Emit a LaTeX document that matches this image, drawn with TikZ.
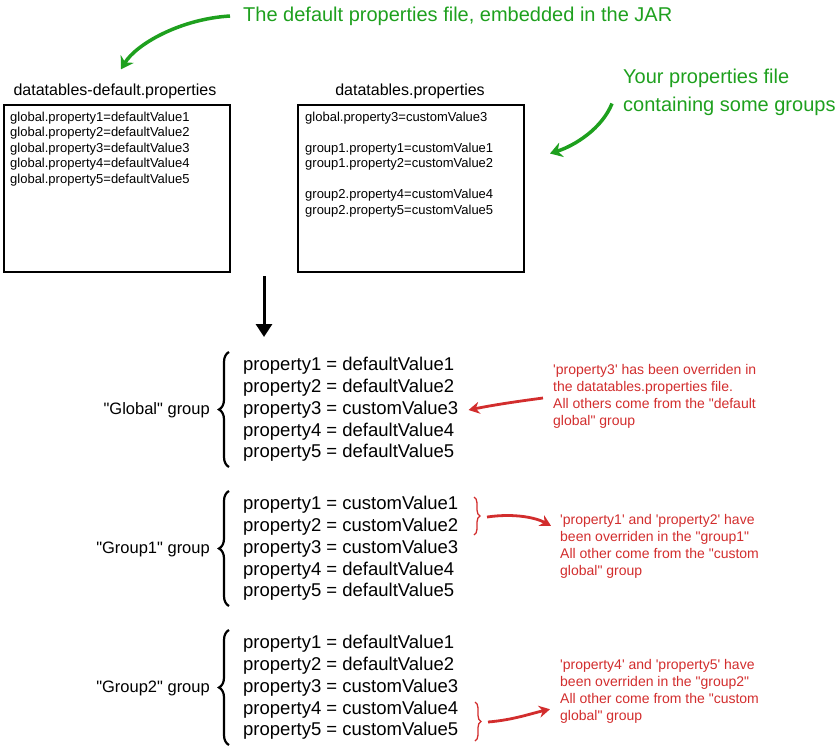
\documentclass[tikz,border=0pt]{standalone}
\usepackage{fontspec}
\setmainfont{Liberation Sans}
\usetikzlibrary{arrows.meta,decorations.pathreplacing,calc}
\definecolor{noteGreen}{RGB}{30,160,30}
\definecolor{noteRed}{RGB}{210,45,45}
\newcommand{\quoted}[1]{\textquotesingle#1\textquotesingle}
\newcommand{\dquoted}[1]{\textquotedbl#1\textquotedbl}
\begin{document}
\begin{tikzpicture}[x=1pt,y=-1pt,
	every node/.style={inner sep=0pt,anchor=west},
	filetxt/.style={anchor=north west,align=left,font=\fontsize{13}{15.5}\selectfont},
	ftitle/.style={anchor=center,font=\fontsize{16}{18}\selectfont},
	filebox/.style={draw,line width=2pt,anchor=north west,minimum width=226pt,minimum height=167pt},
	prop/.style={font=\fontsize{18.5}{22}\selectfont},
	glabel/.style={anchor=east,font=\fontsize{16.5}{20}\selectfont},
	greennote/.style={text=noteGreen,align=left,font=\fontsize{20}{28}\selectfont},
	rednote/.style={text=noteRed,align=left,font=\fontsize{14}{17}\selectfont},
	bigbrace/.style={decorate,decoration={brace,amplitude=10pt},line width=2.2pt},
	smallbrace/.style={decorate,decoration={brace,amplitude=6pt},noteRed,line width=1.3pt},
	greenarrow/.style={noteGreen,line width=3.5pt,-{Stealth[length=12pt,width=15pt]}},
	redarrow/.style={noteRed,line width=2.8pt,-{Stealth[length=11pt,width=12pt]}},
	blackarrow/.style={line width=3pt,-{Triangle[length=13pt,width=16pt]}}]
      \useasboundingbox (0,0) rectangle (840,753);

      % the two files
      \node [filebox] (dbox) at (3,104) {};
      \node [filebox] (cbox) at (297,104) {};
      \node [ftitle] (dtitle) at (115,91) {datatables-default.properties};
      \node [ftitle] (ctitle) at (410,91) {datatables.properties};
      \node [filetxt] (dtxt) at (10,111.5) {global.property1=defaultValue1\\global.property2=defaultValue2\\global.property3=defaultValue3\\global.property4=defaultValue4\\global.property5=defaultValue5};
      \node [filetxt] (ctxt) at (305,111.5) {global.property3=customValue3\\[15.5pt]group1.property1=customValue1\\group1.property2=customValue2\\[15.5pt]group2.property4=customValue4\\group2.property5=customValue5};

      \node [greennote] (jar) at (243,16) {The default properties file, embedded in the JAR};
      \node [greennote] (yours) at (623,92.5) {Your properties file\\containing some groups};
      \draw [greenarrow] ($(jar.west)+(-13,0)$) .. controls +(-50,3) and +(15,-25) .. ($(dtitle.north)+(6,-14)$);
      \draw [greenarrow] ($(yours.west)+(-11,11)$) .. controls +(-10,25) and +(25,-8) .. ($(cbox.east)+(25,-35)$);

      \draw [blackarrow] ($(dbox.south east)!0.5!(cbox.south west)+(0,3)$) -- +(0,61);

      % "Global" group
      \node [prop] (p11) at (243,366) {property1 = defaultValue1};
      \node [prop] (p12) at (243,388) {property2 = defaultValue2};
      \node [prop] (p13) at (243,410) {property3 = customValue3};
      \node [prop] (p14) at (243,432) {property4 = defaultValue4};
      \node [prop] (p15) at (243,453) {property5 = defaultValue5};
      \node [glabel] (lglobal) at (210,410) {\dquoted{Global} group};
      \draw [bigbrace] ($(p15.west)+(-14,14)$) -- ($(p11.west)+(-14,-14)$);

      % "Group1" group
      \node [prop] (p21) at (243,505) {property1 = customValue1};
      \node [prop] (p22) at (243,527) {property2 = customValue2};
      \node [prop] (p23) at (243,549) {property3 = customValue3};
      \node [prop] (p24) at (243,571) {property4 = defaultValue4};
      \node [prop] (p25) at (243,592) {property5 = defaultValue5};
      \node [glabel] (lgroup1) at (210,549) {\dquoted{Group1} group};
      \draw [bigbrace] ($(p25.west)+(-14,14)$) -- ($(p21.west)+(-14,-14)$);

      % "Group2" group
      \node [prop] (p31) at (243,644) {property1 = defaultValue1};
      \node [prop] (p32) at (243,666) {property2 = defaultValue2};
      \node [prop] (p33) at (243,688) {property3 = customValue3};
      \node [prop] (p34) at (243,710) {property4 = customValue4};
      \node [prop] (p35) at (243,731) {property5 = customValue5};
      \node [glabel] (lgroup2) at (210,688) {\dquoted{Group2} group};
      \draw [bigbrace] ($(p35.west)+(-14,14)$) -- ($(p31.west)+(-14,-14)$);

      % red notes
      \node [rednote] (ann1) at (553,396) {\quoted{property3} has been overriden in\\the datatables.properties file.\\All others come from the \textquotedbl default\\global\textquotedbl{} group};
      \node [rednote] (ann2) at (560,546) {\quoted{property1} and \quoted{property2} have\\been overriden in the \dquoted{group1}\\All other come from the \textquotedbl custom\\global\textquotedbl{} group};
      \node [rednote] (ann3) at (560,691) {\quoted{property4} and \quoted{property5} have\\been overriden in the \dquoted{group2}\\All other come from the \textquotedbl custom\\global\textquotedbl{} group};

      \draw [smallbrace] (474,497) -- (474,535);
      \draw [smallbrace] (475,702) -- (475,741);
      \coordinate (br1) at (487,517);
      \coordinate (br2) at (488,722);

      \draw [redarrow] ($(ann1.west)+(-10,2)$) .. controls +(-30,4) and +(25,-5) .. ($(p13.east)+(10,0)$);
      \draw [redarrow] (br1) .. controls +(28,-4) and +(-15,-8) .. ($(ann2.north west)+(-9,12)$);
      \draw [redarrow] (br2) .. controls +(25,-2) and +(-18,4) .. ($(ann3.south west)+(-10,-14)$);
    \end{tikzpicture}
\end{document}
